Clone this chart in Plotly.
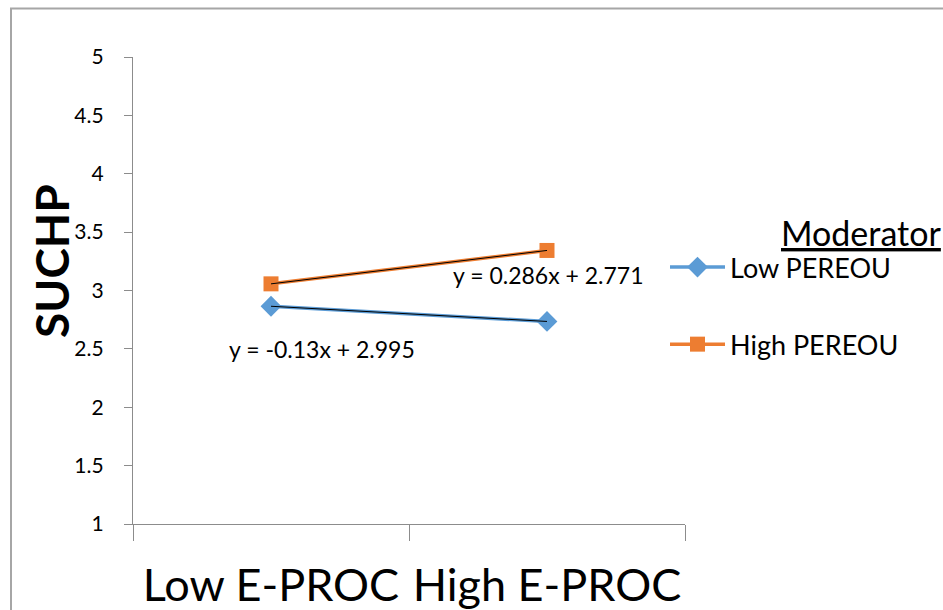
import plotly.graph_objects as go

categories = ["Low E-PROC", "High E-PROC"]
series_names = ["Low PEREOU", "High PEREOU"]
low_pereou = [2.865, 2.735]
high_pereou = [3.057, 3.343]
slopes = [-0.13, 0.286]
intercepts = [2.995, 2.771]
y_ticks = [1, 1.5, 2, 2.5, 3, 3.5, 4, 4.5, 5]
y_tick_text = ["1", "1.5", "2", "2.5", "3", "3.5", "4", "4.5", "5"]

colors = ["#5B9BD5", "#ED7D31"]
symbols = ["diamond", "square"]
FONT = "Lato"

fig = go.Figure()
for i, (name, vals) in enumerate(zip(series_names, [low_pereou, high_pereou])):
    fig.add_trace(go.Scatter(
        x=categories, y=vals, name=name, mode="lines+markers",
        line=dict(color=colors[i], width=3.5),
        marker=dict(symbol=symbols[i], size=16 if i == 0 else 15, color=colors[i]),
        legendgroup=name,
    ))
# linear trendlines (x = 1, 2 as in Excel)
for i in range(2):
    trend = [slopes[i] * (k + 1) + intercepts[i] for k in range(len(categories))]
    fig.add_trace(go.Scatter(
        x=categories, y=trend, mode="lines", showlegend=False,
        line=dict(color="black", width=1), hoverinfo="skip",
    ))

# plot area geometry
L, R, T, B = 133, 685, 57, 524
W, H = 943, 610
pw, ph = R - L, B - T

def px_x(p):
    return (p - L) / pw

def px_y(p):
    return (B - p) / ph

def eq_text(m, b):
    return f"y = {m:g}x + {b:g}"

fig.add_annotation(x=px_x(322), y=px_y(349), xref="paper", yref="paper",
                   xanchor="center", yanchor="middle",
                   text=eq_text(slopes[0], intercepts[0]), showarrow=False,
                   font=dict(family=FONT, size=23, color="black"))
fig.add_annotation(x=px_x(548), y=px_y(275), xref="paper", yref="paper",
                   xanchor="center", yanchor="middle",
                   text=eq_text(slopes[1], intercepts[1]), showarrow=False,
                   font=dict(family=FONT, size=23, color="black"))
fig.add_annotation(x=px_x(779), y=px_y(232), xref="paper", yref="paper",
                   xanchor="left", yanchor="middle", text="<u>Moderator</u>",
                   showarrow=False,
                   font=dict(family=FONT, size=34, color="black"))
fig.add_annotation(x=px_x(51), y=px_y(261), xref="paper", yref="paper",
                   xanchor="center", yanchor="middle",
                   text="<b>SUCHP</b>", textangle=-90, showarrow=False,
                   font=dict(family=FONT, size=46, color="black"))

fig.add_shape(type="rect", xref="paper", yref="paper",
              x0=px_x(11), x1=px_x(1000), y0=px_y(700), y1=px_y(8.5),
              line=dict(color="#A6A6A6", width=2))

fig.update_layout(
    width=W, height=H,
    margin=dict(l=L, r=W - R, t=T, b=H - B),
    paper_bgcolor="white", plot_bgcolor="white",
    showlegend=True,
    legend=dict(x=px_x(665), y=px_y(243), xanchor="left", yanchor="top",
                font=dict(family=FONT, size=27, color="black"),
                tracegroupgap=39, itemwidth=55, bgcolor="rgba(0,0,0,0)"),
    xaxis=dict(type="category", range=[-0.5, 1.5], showline=True,
               linecolor="#8C8C8C", linewidth=1.3, ticks="outside", ticklen=16,
               tickcolor="#8C8C8C", tickson="boundaries", showgrid=False,
               zeroline=False, tickangle=0, automargin=False,
               ticklabelstandoff=22,
               tickfont=dict(family=FONT, size=45, color="black")),
    yaxis=dict(range=[1, 5], tickvals=y_ticks, ticktext=y_tick_text,
               showline=True, linecolor="#8C8C8C", linewidth=1.3,
               ticks="outside", ticklen=8, tickcolor="#8C8C8C",
               showgrid=False, zeroline=False, ticklabelstandoff=16,
               automargin=False,
               tickfont=dict(family=FONT, size=21, color="black")),
)

fig.write_html("out.html")
